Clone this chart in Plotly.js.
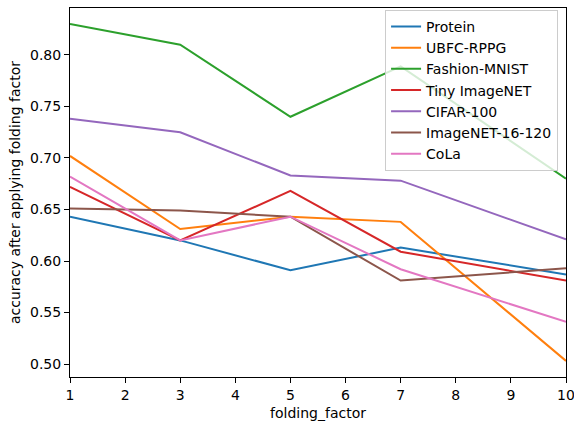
<!DOCTYPE html>
<html><head><meta charset="utf-8">
<script src="https://cdn.plot.ly/plotly-3.0.1.min.js"></script>
<style>html,body{margin:0;padding:0;background:#fff}#chart{width:574px;height:421px}</style>
</head><body><div id="chart"></div>
<script>
const folding = [1, 3, 5, 7, 10];
const seriesNames = ["Protein", "UBFC-RPPG", "Fashion-MNIST", "Tiny ImageNET", "CIFAR-100", "ImageNET-16-120", "CoLa"];
const protein = [0.643, 0.620, 0.591, 0.613, 0.587];
const ubfc = [0.702, 0.631, 0.643, 0.638, 0.503];
const fashion = [0.830, 0.810, 0.740, 0.789, 0.680];
const tiny = [0.672, 0.620, 0.668, 0.609, 0.581];
const cifar = [0.738, 0.725, 0.683, 0.678, 0.621];
const imagenet16 = [0.651, 0.649, 0.643, 0.581, 0.593];
const cola = [0.682, 0.620, 0.643, 0.592, 0.541];
const xTicks = [1,2,3,4,5,6,7,8,9,10];
const yTicks = [0.50,0.55,0.60,0.65,0.70,0.75,0.80];

const seriesValues = [protein, ubfc, fashion, tiny, cifar, imagenet16, cola];
const colors = ["#1f77b4","#ff7f0e","#2ca02c","#d62728","#9467bd","#8c564b","#e377c2"];

const traces = seriesNames.map((n,i)=>({
  x: folding, y: seriesValues[i], name: n, type: 'scatter', mode: 'lines',
  line: {color: colors[i], width: 2}
}));

const font = {family: 'DejaVu Sans', size: 14, color: '#000'};
const layout = {
  width: 574, height: 421,
  margin: {l: 70, r: 8, t: 8, b: 44},
  paper_bgcolor: '#fff', plot_bgcolor: '#fff',
  font: font,
  showlegend: true,
  legend: {x: 0.984, xanchor: 'right', y: 0.995, yanchor: 'top',
    bgcolor: 'rgba(255,255,255,0.8)', bordercolor: '#cccccc', borderwidth: 1,
    itemwidth: 30,
    font: {family: 'DejaVu Sans', size: 14, color: '#000'}, tracegroupgap: 0},
  xaxis: {range: [1, 10], tickvals: xTicks, ticktext: xTicks.map(String),
    ticklabeloverflow: 'allow',
    showgrid: false, zeroline: false, showline: true, linecolor: '#000', linewidth: 1,
    mirror: true, ticks: 'outside', ticklen: 5, tickcolor: '#000',
    title: {text: 'folding_factor', font: font, standoff: 6}},
  yaxis: {range: [0.4874, 0.8456], tickvals: yTicks, ticktext: yTicks.map(v=>v.toFixed(2)),
    showgrid: false, zeroline: false, showline: true, linecolor: '#000', linewidth: 1,
    mirror: true, ticks: 'outside', ticklen: 5, tickcolor: '#000',
    title: {text: 'accuracy after applying folding factor', font: font, standoff: 6}}
};
Plotly.newPlot('chart', traces, layout, {displayModeBar: false, staticPlot: true});
</script></body></html>
